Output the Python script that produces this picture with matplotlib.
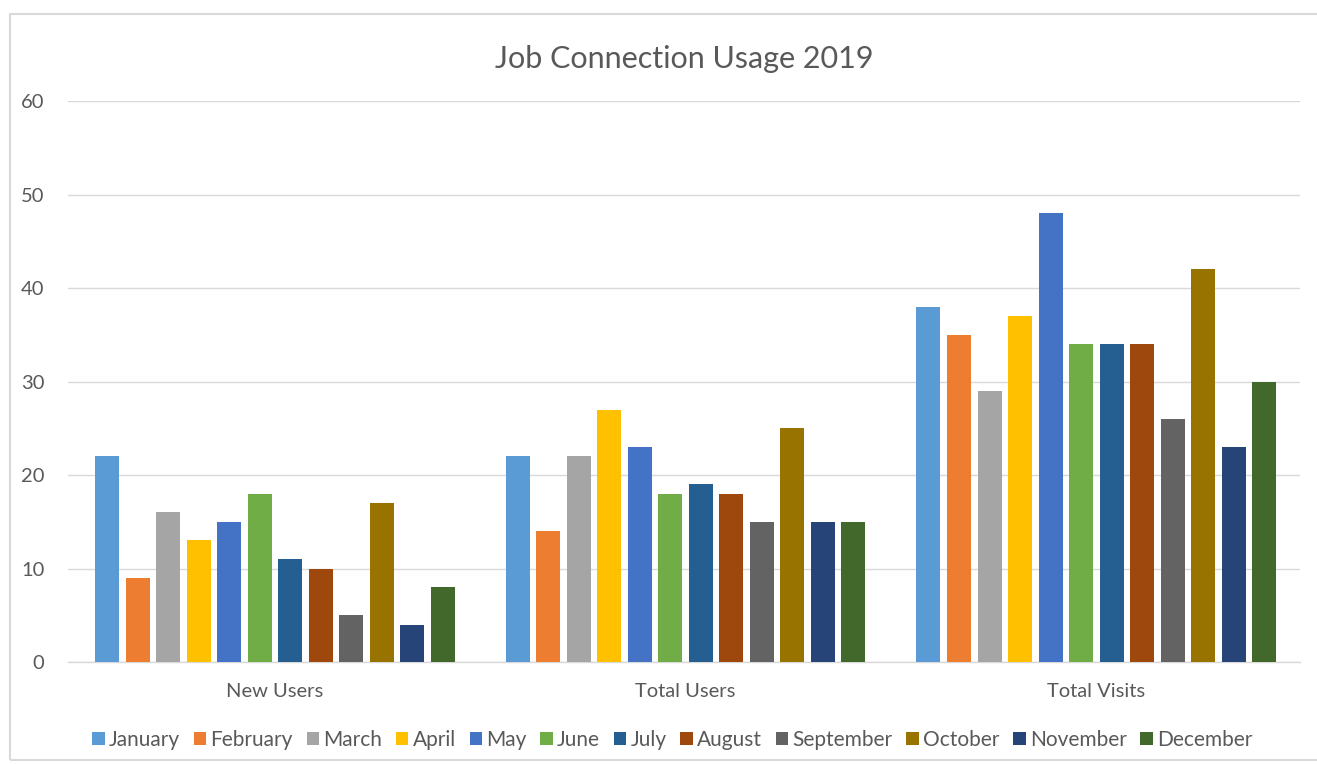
import numpy as np
import matplotlib.pyplot as plt
from matplotlib.patches import Rectangle

plt.rcParams['font.family'] = ['Lato', 'DejaVu Sans']

groups = ["New Users", "Total Users", "Total Visits"]
months = ["January", "February", "March", "April", "May", "June", "July",
          "August", "September", "October", "November", "December"]
values = {
    "January":   [22, 22, 38],
    "February":  [9, 14, 35],
    "March":     [16, 22, 29],
    "April":     [13, 27, 37],
    "May":       [15, 23, 48],
    "June":      [18, 18, 34],
    "July":      [11, 19, 34],
    "August":    [10, 18, 34],
    "September": [5, 15, 26],
    "October":   [17, 25, 42],
    "November":  [4, 15, 23],
    "December":  [8, 15, 30],
}
colors = ["#5B9BD5", "#ED7D31", "#A5A5A5", "#FFC000", "#4472C4", "#70AD47",
          "#255E91", "#9E480E", "#636363", "#997300", "#264478", "#43682B"]
yticks = [0, 10, 20, 30, 40, 50, 60]

text_color = "#595959"

fig = plt.figure(figsize=(13.17, 7.64), dpi=100)
ax = fig.add_axes([0.0516, 0.1335, 0.9355, 0.7343])

# outer chart border
fig.patches.append(Rectangle((10 / 1317, 4 / 764), 1.2, 746 / 764,
                             transform=fig.transFigure, fill=False,
                             edgecolor="#D9D9D9", linewidth=1.5))

x = np.arange(len(groups))
slot = 0.0743
width = 0.0584
for i, m in enumerate(months):
    offset = (i - (len(months) - 1) / 2) * slot
    ax.bar(x + offset + 0.004, values[m], width, color=colors[i], label=m, zorder=3)

ax.set_xlim(-0.5, len(groups) - 0.5)
ax.set_ylim(0, 60)
ax.set_yticks(yticks)
ax.set_xticks(x + 0.004)
ax.set_xticklabels(groups)
ax.grid(axis="y", color="#D9D9D9", linewidth=1, zorder=0)
for s in ["top", "right", "left"]:
    ax.spines[s].set_visible(False)
ax.spines["bottom"].set_color("#D9D9D9")
ax.spines["bottom"].set_linewidth(1)
ax.tick_params(axis="both", length=0, colors=text_color, labelsize=14.5)
ax.tick_params(axis="y", pad=17)
ax.tick_params(axis="x", pad=15)

ax.set_title("Job Connection Usage 2019", fontsize=22, color=text_color, pad=24)

leg = ax.legend(loc="upper center", bbox_to_anchor=(0.4905, -0.088), ncol=12,
                frameon=False, fontsize=15, handlelength=0.6, handleheight=0.6,
                handletextpad=0.2, columnspacing=0.66)
for t in leg.get_texts():
    t.set_color(text_color)

fig.savefig("out.png", dpi=100)
